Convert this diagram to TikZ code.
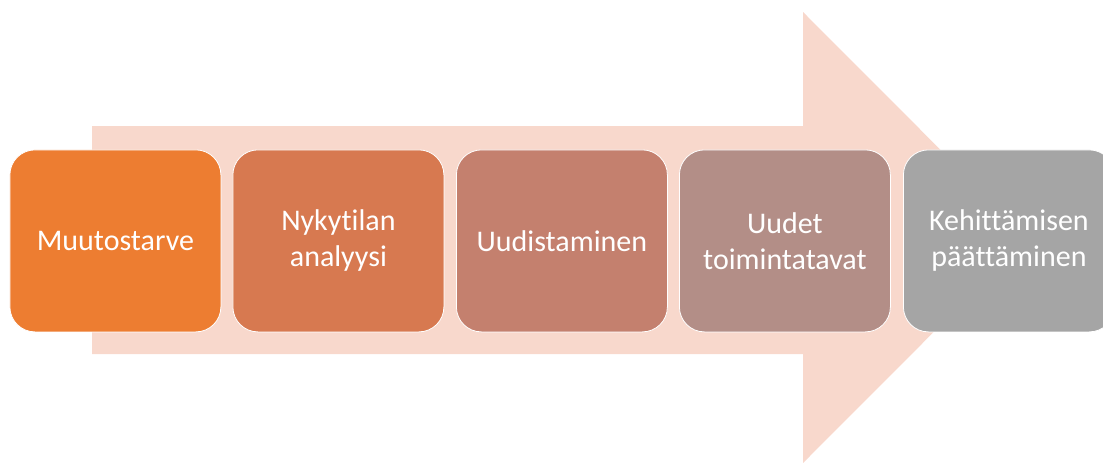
\documentclass[tikz,border=0pt]{standalone}
\usepackage{fontspec}
\setmainfont{Carlito}[Ligatures=NoCommon]
\definecolor{arrowfill}{HTML}{F8D8CC}
\definecolor{cA}{HTML}{ED7D31}
\definecolor{cB}{HTML}{D77950}
\definecolor{cC}{HTML}{C4806E}
\definecolor{cD}{HTML}{B38E87}
\definecolor{cE}{HTML}{A5A5A5}
\begin{document}
\begin{tikzpicture}[x=1pt,y=-1pt,
  stage/.style={draw=white, line width=0.8pt, rounded corners=25pt, minimum width=211pt, minimum height=182pt,
    inner sep=0pt, align=center, text=white, font=\fontsize{30}{36}\selectfont, anchor=north west}]
\useasboundingbox (0,0) rectangle (1103,463);
\clip (0,0) rectangle (1103,463);
\fill[arrowfill] (92,126) -- (803,126) -- (803,12) -- (1028,237.5) -- (803,463) -- (803,354) -- (92,354) -- cycle;
\node[stage, fill=cA] (s1) at (9.5,149.5) {Muutostarve};
\node[stage, fill=cB] (s2) at (232.5,149.5) {Nykytilan\\analyysi};
\node[stage, fill=cC] (s3) at (456,149.5) {Uudistaminen};
\node[stage, fill=cD] (s4) at (679,149.5) {Uudet\\toimintatavat};
\node[stage, fill=cE] (s5) at (903,149.5) {Kehittämisen\\päättäminen};
\end{tikzpicture}
\end{document}
